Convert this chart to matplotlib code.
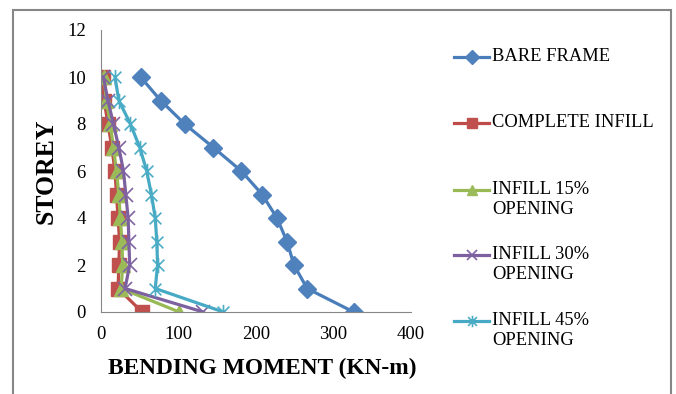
import numpy as np
import matplotlib
matplotlib.use("Agg")
import matplotlib.pyplot as plt
from matplotlib.path import Path
from matplotlib.lines import Line2D
from matplotlib.patches import Rectangle

plt.rcParams['font.family'] = ['Liberation Serif', 'DejaVu Serif']

# storey level vs bending moment (KN-m)
storey = [0, 1, 2, 3, 4, 5, 6, 7, 8, 9, 10]
bare_frame = [326, 266, 249, 240, 227, 208, 181, 145, 108, 77, 51]
complete_infill = [53, 22, 23, 24, 22, 20, 18, 14, 9, 4, 2]
infill_15 = [101, 26, 28, 27, 25, 23, 20, 16, 12, 7, 4]
infill_30 = [132, 31, 37, 36, 35, 32, 29, 23, 16, 9, 3]
infill_45 = [158, 70, 73, 72, 70, 65, 59, 50, 38, 23, 18]

labels = ["BARE FRAME", "COMPLETE INFILL", "INFILL 15%\nOPENING",
          "INFILL 30%\nOPENING", "INFILL 45%\nOPENING"]

# asterisk marker: an x with a vertical stroke through it
star = Path([(-1, -1), (1, 1), (-1, 1), (1, -1), (0, -1.3), (0, 1.3)],
            [Path.MOVETO, Path.LINETO, Path.MOVETO, Path.LINETO, Path.MOVETO, Path.LINETO])

styles = [
    dict(color="#4A7EBB", marker="D", ms=9, mfc="#4F81BD", mec="#4F81BD"),
    dict(color="#BE4B48", marker="s", ms=9.5, mfc="#C0504D", mec="#C0504D"),
    dict(color="#98B954", marker="^", ms=10, mfc="#9BBB59", mec="#9BBB59"),
    dict(color="#7D60A0", marker="x", ms=10, mew=1.2, mfc="#8064A2", mec="#8064A2"),
    dict(color="#46AAC5", marker=star, ms=11, mew=1.2, mfc="#4BACC6", mec="#4BACC6"),
]
series = [bare_frame, complete_infill, infill_15, infill_30, infill_45]

fig = plt.figure(figsize=(6.76, 3.94), dpi=100)
W, H = 676, 394

# outer chart border
fig.add_artist(Rectangle((13 / W, -0.05), 658 / W, 1 - 10 / H + 0.05,
                         transform=fig.transFigure, fill=False,
                         edgecolor="#868686", lw=1.5))

ax = fig.add_axes([101 / W, 1 - 312 / H, 310 / W, 282 / H])
for vals, st in zip(series, styles):
    ax.plot(vals, storey, lw=2.3, **st)

ax.set_xlim(0, 400)
ax.set_ylim(0, 12)
ax.set_xticks([0, 100, 200, 300, 400])
ax.set_yticks(range(0, 13, 2))
for s in ["top", "right"]:
    ax.spines[s].set_visible(False)
for s in ["left", "bottom"]:
    ax.spines[s].set_color("#868686")
ax.tick_params(axis="both", length=0, labelsize=13.5)
ax.tick_params(axis="x", pad=10)
ax.tick_params(axis="y", pad=11)
ax.set_xlabel("BENDING MOMENT (KN-m)", fontsize=16.8, fontweight="bold", labelpad=11)
ax.xaxis.label.set_x(0.52)
ax.set_ylabel("STOREY", fontsize=18.5, fontweight="bold", labelpad=7)

# legend, handle level with the first line of each label
leg_y = [57, 123, 190, 255, 321]
for lab, st, y in zip(labels, styles, leg_y):
    yf = 1 - y / H
    fig.add_artist(Line2D([454 / W, 489 / W], [yf, yf], transform=fig.transFigure,
                          color=st["color"], lw=2.3))
    fig.add_artist(Line2D([471.5 / W], [yf], transform=fig.transFigure,
                          marker=st["marker"], ms=st["ms"] * 0.75,
                          mfc=st["mfc"], mec=st["mec"], mew=st.get("mew", 1), lw=0))
    fig.text(492 / W, yf + 9 / H, lab, fontsize=13.3, va="top", ha="left",
             linespacing=1.2)

fig.savefig("out.png", dpi=100)
